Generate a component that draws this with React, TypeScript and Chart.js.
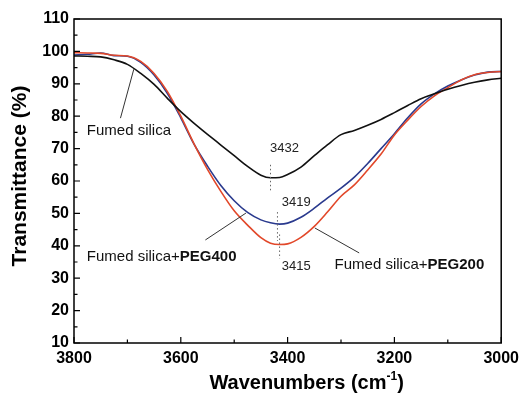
import React, { useEffect, useRef } from "react";
import { Chart, registerables } from "chart.js";

Chart.register(...registerables);

const wavenumbers = [3800, 3775, 3750, 3725, 3700, 3675, 3650, 3625, 3600, 3575, 3550, 3525, 3500, 3475, 3450, 3432, 3415, 3400, 3375, 3350, 3325, 3300, 3275, 3250, 3225, 3200, 3175, 3150, 3125, 3100, 3075, 3050, 3025, 3000];
const fumedSilica = [98.6, 98.5, 98.3, 97.4, 96.0, 93.2, 89.8, 85.5, 81.4, 77.8, 74.4, 71.1, 67.8, 64.5, 61.8, 61.0, 61.1, 62.0, 64.3, 67.8, 71.2, 74.3, 75.6, 77.2, 79.0, 81.1, 83.3, 85.4, 86.9, 88.3, 89.5, 90.5, 91.2, 91.7];
const peg400 = [98.9, 99.1, 99.5, 98.7, 98.5, 96.6, 92.7, 87.0, 79.5, 71.3, 64.6, 58.6, 53.9, 50.3, 48.0, 47.1, 46.7, 47.0, 48.8, 51.6, 54.8, 57.8, 61.2, 65.4, 70.0, 74.6, 79.5, 83.8, 86.9, 89.3, 91.2, 92.7, 93.6, 93.8];
const peg200 = [99.6, 99.5, 99.4, 98.8, 98.6, 96.9, 93.2, 87.6, 80.0, 71.4, 63.6, 56.8, 50.8, 46.4, 42.5, 40.8, 40.4, 40.6, 42.6, 46.0, 50.5, 55.3, 58.8, 63.4, 68.3, 74.2, 78.8, 83.0, 86.3, 88.8, 91.2, 92.8, 93.5, 93.8];

const seriesNames = ["Fumed silica", "Fumed silica+PEG400", "Fumed silica+PEG200"];
const seriesColors = ["#111111", "#2a3a8e", "#e2482a"];

const FONT = "'Liberation Sans', Arial, sans-serif";

// annotation placement (data units)
const peakMarks = [
  { label: "3432", x: 3432, y1: 65, y2: 56.5, tx: 3406, ty: 70.2 },
  { label: "3419", x: 3419, y1: 50.4, y2: 41.5, tx: 3384, ty: 53.5 },
  { label: "3415", x: 3415, y1: 43.5, y2: 36.0, tx: 3384, ty: 33.5 },
];
const seriesNotes = [
  { normal: "Fumed silica", bold: "", tx: 3776, ty: 75.4, lx1: 3713, ly1: 79.4, lx2: 3688, ly2: 94.5 },
  { normal: "Fumed silica+", bold: "PEG400", tx: 3776, ty: 36.5, lx1: 3554, ly1: 41.8, lx2: 3478, ly2: 50.1 },
  { normal: "Fumed silica+", bold: "PEG200", tx: 3312, ty: 34.1, lx1: 3349, ly1: 45.5, lx2: 3266, ly2: 37.8 },
];

const decorPlugin = {
  id: "decor",
  afterDraw(chart: any) {
    const { ctx, chartArea: a, scales } = chart;
    const xs = scales.x;
    const ys = scales.y;
    ctx.save();
    // frame
    ctx.strokeStyle = "#000";
    ctx.lineWidth = 1.5;
    ctx.strokeRect(a.left, a.top, a.right - a.left, a.bottom - a.top);
    // inward ticks
    ctx.lineWidth = 1.2;
    ctx.beginPath();
    for (let v = 3000; v <= 3800; v += 100) {
      const px = xs.getPixelForValue(v);
      const len = v % 200 === 0 ? 6 : 3.5;
      ctx.moveTo(px, a.bottom);
      ctx.lineTo(px, a.bottom - len);
    }
    for (let v = 10; v <= 110; v += 5) {
      const py = ys.getPixelForValue(v);
      const len = v % 10 === 0 ? 6 : 3.5;
      ctx.moveTo(a.left, py);
      ctx.lineTo(a.left + len, py);
    }
    ctx.stroke();

    // peak dotted lines and labels
    ctx.strokeStyle = "#666";
    ctx.lineWidth = 1;
    ctx.setLineDash([1.5, 2.5]);
    peakMarks.forEach((m) => {
      const px = xs.getPixelForValue(m.x);
      ctx.beginPath();
      ctx.moveTo(px, ys.getPixelForValue(m.y1));
      ctx.lineTo(px, ys.getPixelForValue(m.y2));
      ctx.stroke();
    });
    ctx.setLineDash([]);
    ctx.fillStyle = "#222";
    ctx.font = `13px ${FONT}`;
    ctx.textAlign = "center";
    ctx.textBaseline = "middle";
    peakMarks.forEach((m) => {
      ctx.fillText(m.label, xs.getPixelForValue(m.tx), ys.getPixelForValue(m.ty));
    });

    // series notes with leaders
    ctx.strokeStyle = "#333";
    ctx.lineWidth = 1;
    seriesNotes.forEach((n) => {
      ctx.beginPath();
      ctx.moveTo(xs.getPixelForValue(n.lx1), ys.getPixelForValue(n.ly1));
      ctx.lineTo(xs.getPixelForValue(n.lx2), ys.getPixelForValue(n.ly2));
      ctx.stroke();
      const tx = xs.getPixelForValue(n.tx);
      const ty = ys.getPixelForValue(n.ty);
      ctx.textAlign = "left";
      ctx.fillStyle = "#111";
      ctx.font = `15px ${FONT}`;
      ctx.fillText(n.normal, tx, ty);
      const w = ctx.measureText(n.normal).width;
      if (n.bold) {
        ctx.font = `bold 15px ${FONT}`;
        ctx.fillText(n.bold, tx + w, ty);
      }
    });

    // axis titles
    ctx.fillStyle = "#000";
    ctx.font = `bold 21px ${FONT}`;
    ctx.textBaseline = "middle";
    ctx.textAlign = "center";
    ctx.save();
    ctx.translate(20, 176);
    ctx.rotate(-Math.PI / 2);
    ctx.fillText("Transmittance (%)", 0, 0);
    ctx.restore();

    const main = "Wavenumbers (cm";
    const sup = "-1";
    const close = ")";
    ctx.font = `bold 20px ${FONT}`;
    const wMain = ctx.measureText(main).width;
    const wClose = ctx.measureText(close).width;
    ctx.font = `bold 12px ${FONT}`;
    const wSup = ctx.measureText(sup).width;
    const total = wMain + wSup + wClose;
    const cx = (a.left + a.right) / 2 + 19;
    let x0 = cx - total / 2;
    const base = 389;
    ctx.textAlign = "left";
    ctx.textBaseline = "alphabetic";
    ctx.font = `bold 20px ${FONT}`;
    ctx.fillText(main, x0, base);
    x0 += wMain;
    ctx.font = `bold 12px ${FONT}`;
    ctx.fillText(sup, x0, base - 9);
    x0 += wSup;
    ctx.font = `bold 20px ${FONT}`;
    ctx.fillText(close, x0, base);
    ctx.restore();
  },
};

export default function App() {
  const ref = useRef<HTMLCanvasElement | null>(null);
  useEffect(() => {
    if (!ref.current) return;
    const mk = (vals: number[]) => wavenumbers.map((w, i) => ({ x: w, y: vals[i] }));
    const chart = new Chart(ref.current, {
      type: "line",
      data: {
        datasets: [
          { label: seriesNames[0], data: mk(fumedSilica), borderColor: seriesColors[0] },
          { label: seriesNames[2], data: mk(peg200), borderColor: seriesColors[2] },
          { label: seriesNames[1], data: mk(peg400), borderColor: seriesColors[1] },
        ].map((d) => ({ ...d, borderWidth: 1.6, pointRadius: 0, fill: false, cubicInterpolationMode: "monotone" as const })),
      },
      options: {
        animation: false,
        responsive: false,
        events: [],
        layout: { padding: { top: 19, right: 18, left: 0, bottom: 0 } },
        plugins: { legend: { display: false }, tooltip: { enabled: false } },
        scales: {
          x: {
            type: "linear",
            min: 3000,
            max: 3800,
            reverse: true,
            grid: { display: false, drawTicks: false },
            border: { display: false },
            ticks: {
              stepSize: 200,
              color: "#000",
              font: { family: FONT, weight: "bold", size: 16 },
              padding: 6,
              maxRotation: 0,
              callback: (v: any) => String(v),
            },
            afterFit: (s: any) => { s.height = 52; },
          },
          y: {
            min: 10,
            max: 110,
            grid: { display: false, drawTicks: false },
            border: { display: false },
            ticks: { stepSize: 10, color: "#000", font: { family: FONT, weight: "bold", size: 16 }, padding: 5 },
            afterFit: (s: any) => { s.width = 74; },
          },
        },
      },
      plugins: [decorPlugin],
    });
    return () => chart.destroy();
  }, []);
  return (
    <div style={{ position: "fixed", left: 0, top: 0, width: 525, height: 395, background: "#fff" }}>
      <canvas ref={ref} width={525} height={395} style={{ display: "block" }} />
    </div>
  );
}
